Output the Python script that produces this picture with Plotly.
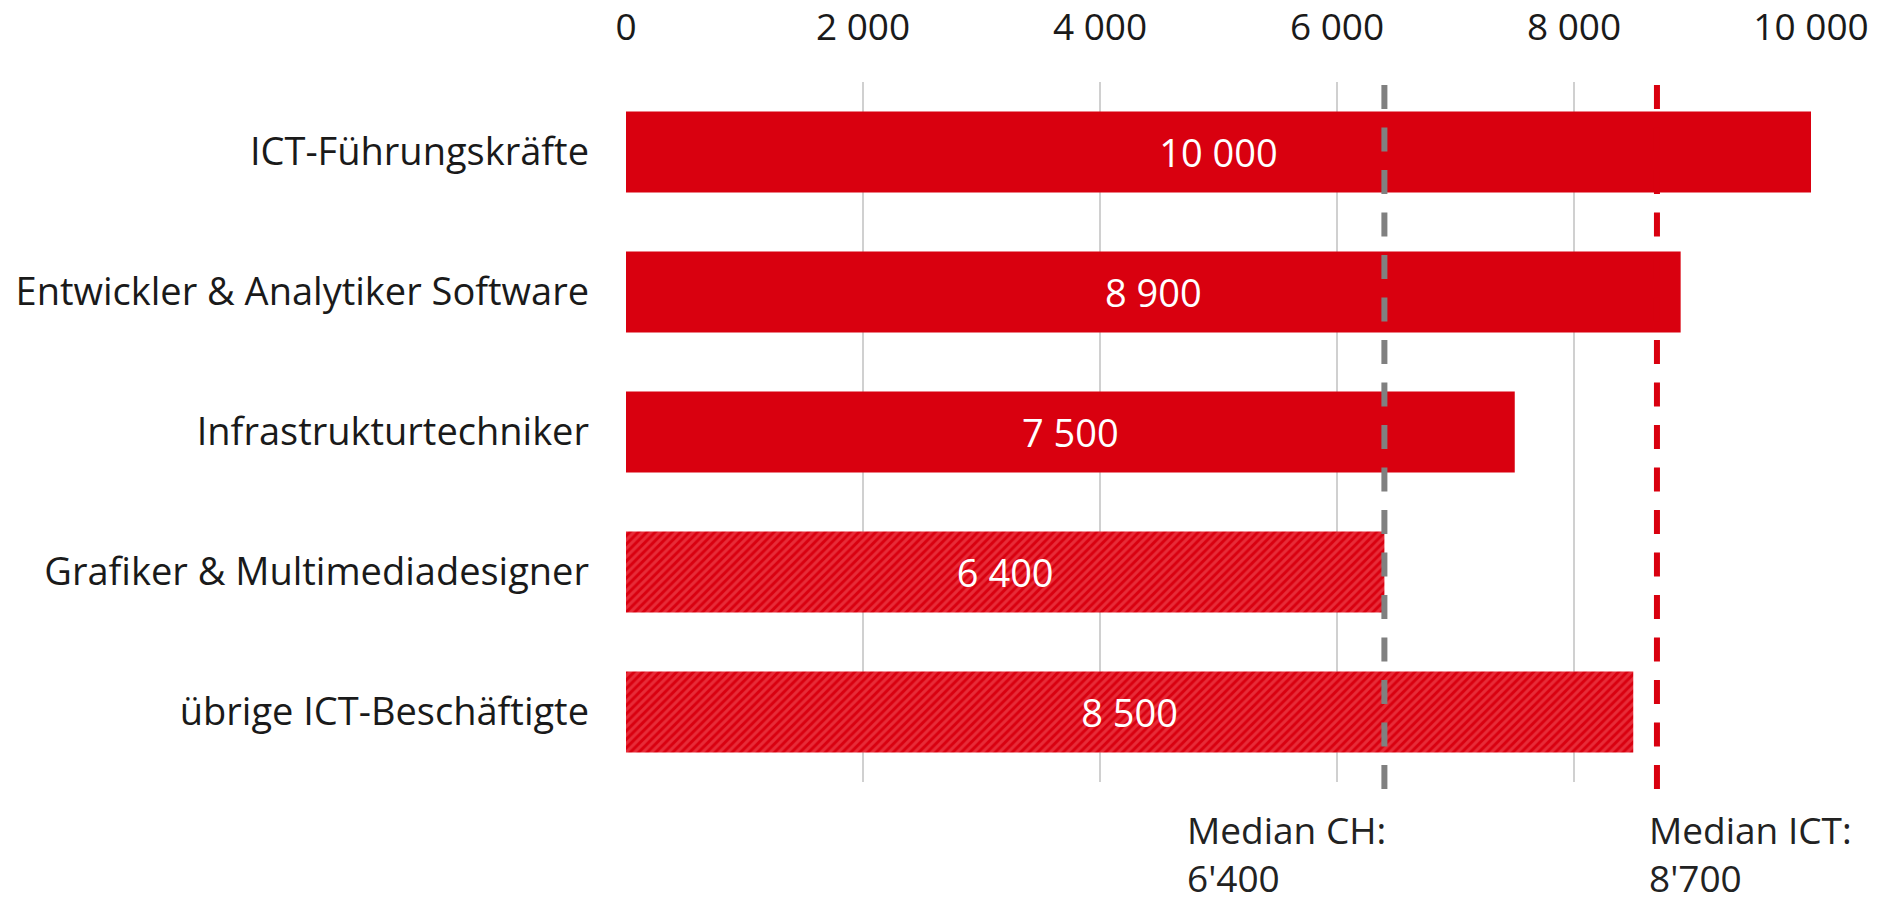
import plotly.graph_objects as go

# Data
categories = [
    "ICT-Führungskräfte",
    "Entwickler & Analytiker Software",
    "Infrastrukturtechniker",
    "Grafiker & Multimediadesigner",
    "übrige ICT-Beschäftigte",
]
salaries = [10000, 8900, 7500, 6400, 8500]
hatched = [False, False, False, True, True]
median_ch = 6400
median_ict = 8700
x_ticks = [0, 2000, 4000, 6000, 8000, 10000]

RED = "#d9000f"
HATCH = "#f65862"
GREY = "#808080"
FONT = "Open Sans"

fig = go.Figure()

fig.add_trace(
    go.Bar(
        y=categories,
        x=salaries,
        orientation="h",
        marker={
            "color": RED,
            "line": {"width": 0},
            "pattern": {
                "shape": ["/" if h else "" for h in hatched],
                "fgcolor": HATCH,
                "bgcolor": RED,
                "size": 6,
                "solidity": 0.5,
            },
        },
        texttemplate="%{x:,}",
        textposition="inside",
        insidetextanchor="middle",
        textfont={"family": FONT, "size": 38, "color": "white"},
        hoverinfo="skip",
    )
)

# Median lines (dashed), running a bit below the plot area
for value, color in [(median_ch, GREY), (median_ict, RED)]:
    fig.add_shape(
        type="line",
        xref="x",
        yref="paper",
        x0=value,
        x1=value,
        y0=0.9957,
        y1=-0.0114,
        line={"color": color, "width": 6, "dash": "24px,18.5px"},
        layer="above",
    )


def fmt_ch(v):
    return f"{v:,}".replace(",", "'")


label_font = {"family": FONT, "size": 37, "color": "#222222"}
fig.add_annotation(
    x=median_ch,
    xref="x",
    y=-0.028,
    yref="paper",
    text=f"Median CH:<br>{fmt_ch(median_ch)}",
    showarrow=False,
    xanchor="right",
    xshift=4,
    yanchor="top",
    align="left",
    font=label_font,
)
fig.add_annotation(
    x=median_ict,
    xref="x",
    y=-0.028,
    yref="paper",
    text=f"Median ICT:<br>{fmt_ch(median_ict)}",
    showarrow=False,
    xanchor="left",
    xshift=-10,
    yanchor="top",
    align="left",
    font=label_font,
)

# page body adds an 8px margin, so the figure is 16px smaller than the window
fig.update_layout(
    width=1864,
    height=886,
    margin={"l": 618, "r": 61, "t": 74, "b": 112},
    plot_bgcolor="white",
    paper_bgcolor="white",
    separators=". ",
    bargap=0.42,
    showlegend=False,
    font={"family": FONT, "color": "#1a1a1a"},
)
fig.update_xaxes(
    side="top",
    range=[0, 10000],
    tickvals=x_ticks,
    tickformat=",d",
    showgrid=True,
    gridcolor="#d0d0d0",
    gridwidth=2,
    zeroline=False,
    showline=False,
    ticks="",
    automargin=False,
    ticklabelstandoff=34,
    tickfont={"family": FONT, "size": 37, "color": "#1a1a1a"},
)
fig.update_yaxes(
    autorange="reversed",
    showgrid=False,
    showline=False,
    ticks="",
    automargin=False,
    ticklabelstandoff=36,
    tickfont={"family": FONT, "size": 38, "color": "#1a1a1a"},
)

fig.write_html("out.html")
